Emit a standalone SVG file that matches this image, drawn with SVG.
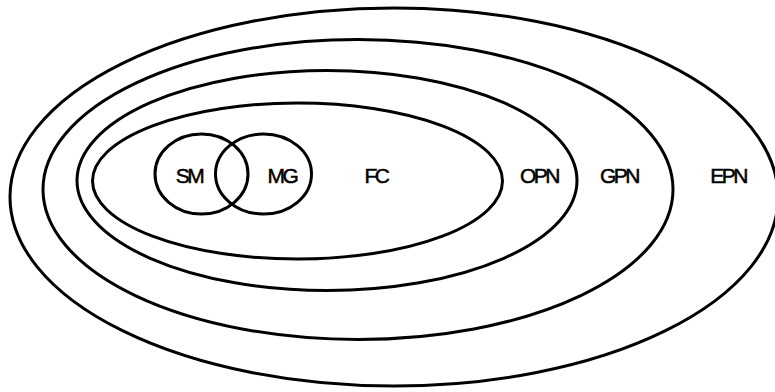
<svg xmlns="http://www.w3.org/2000/svg" width="775" height="392" viewBox="0 0 775 392">
<style>
.s{fill:none;stroke:#000;stroke-width:3}
.t{font-family:"Liberation Sans",Arial,sans-serif;font-size:21px;letter-spacing:-2.5px;fill:#000;stroke:#000;stroke-width:0.5;text-anchor:middle}
</style>
<rect width="775" height="392" fill="#fff"/>
<g id="EPN"><ellipse class="s" cx="394" cy="197" rx="384" ry="189"/><text class="t" x="728" y="183">EPN</text></g>
<g id="GPN"><ellipse class="s" cx="358" cy="189.5" rx="315" ry="150"/><text class="t" x="619" y="183">GPN</text></g>
<g id="OPN"><ellipse class="s" cx="327" cy="180.5" rx="250" ry="110"/><text class="t" x="539" y="183">OPN</text></g>
<g id="FC"><ellipse class="s" cx="297.5" cy="181" rx="205" ry="78"/><text class="t" x="376" y="183">FC</text></g>
<g id="SM"><ellipse class="s" cx="201.5" cy="174" rx="46.5" ry="40"/><text class="t" x="189" y="183">SM</text></g>
<g id="MG"><ellipse class="s" cx="263.5" cy="174" rx="48" ry="40"/><text class="t" x="282" y="183">MG</text></g>
<g id="connectors"></g>
</svg>
